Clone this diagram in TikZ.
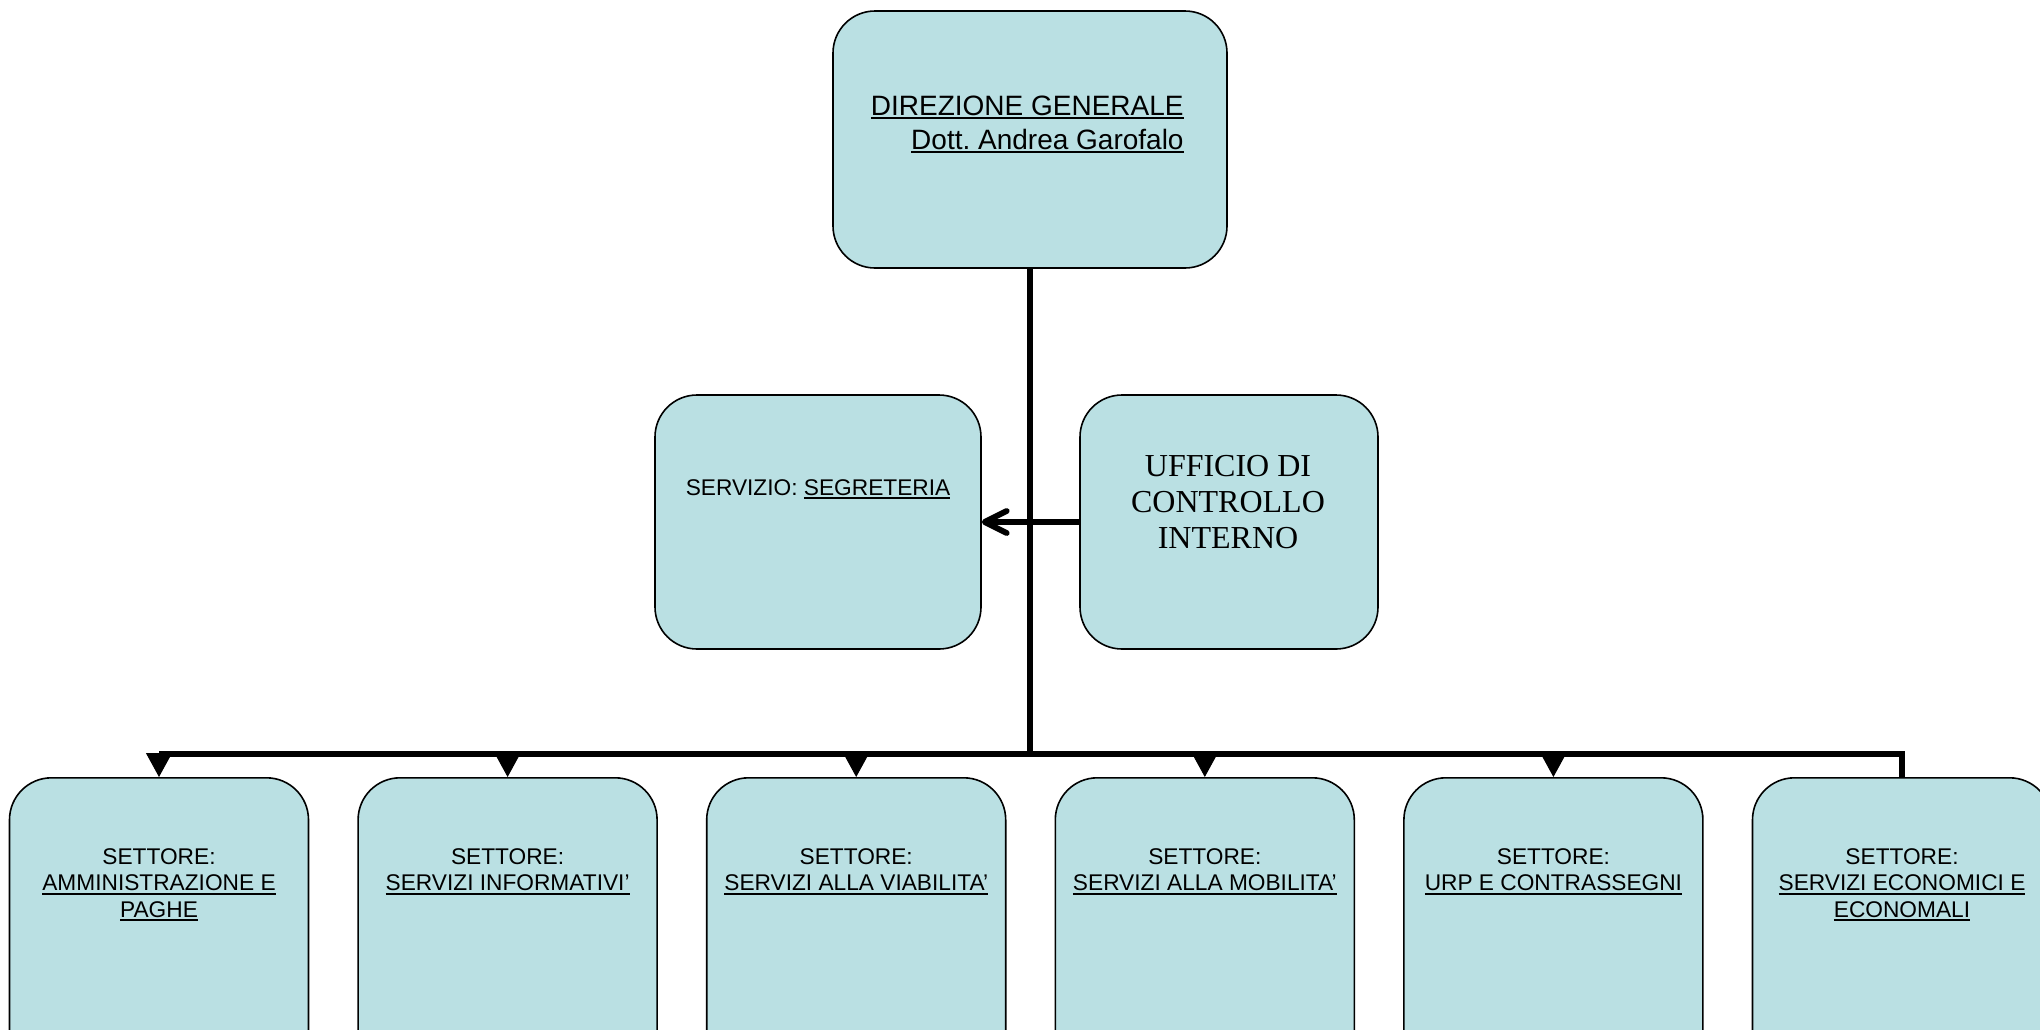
\documentclass[tikz,border=0pt]{standalone}
\usepackage{fontspec}
\setmainfont{Liberation Sans}
\newfontfamily\timesfont{Liberation Serif}
\usetikzlibrary{arrows.meta}
\definecolor{boxfill}{RGB}{186,224,227}
\frenchspacing
\newcommand\myul[1]{\leavevmode\setbox0\hbox{#1}\rlap{\rule[-2.2pt]{\wd0}{1.1pt}}\box0}
\newcommand\txtstack[2]{\begin{tabular}[t]{@{}#1@{}}#2\end{tabular}}
\begin{document}
\begin{tikzpicture}[x=0.5pt,y=-0.5pt,
  orgbox/.style={draw=black,line width=0.8pt,fill=boxfill,rounded corners=21pt,inner sep=0pt},
  conn/.style={line width=2.9pt,draw=black},
  sanslab/.style={font=\fontsize{11.35pt}{13.25pt}\selectfont,inner sep=0pt,anchor=base},
]
\useasboundingbox (0,0) rectangle (2040,1029);
\clip (0,0) rectangle (2040,1029);

% boxes
\node[orgbox,minimum width=197pt,minimum height=128.5pt] (dir) at (1030,139.5) {};
\node[orgbox,minimum width=163pt,minimum height=127pt] (seg) at (818,522) {};
\node[orgbox,minimum width=149pt,minimum height=127pt] (uci) at (1229,522) {};
\foreach \i in {1,...,6}
  \node[orgbox,minimum width=149.5pt,minimum height=150pt,anchor=north] (s\i) at ({159+348.6*(\i-1)},777) {};

% texts
\node[font=\fontsize{14pt}{17pt}\selectfont,inner sep=0pt,anchor=base east] (dirt) at (1184,115)
  {\txtstack{r}{\myul{DIREZIONE GENERALE}\\\myul{Dott. Andrea Garofalo}}};
\node[sanslab] (segt) at (818,495) {SERVIZIO: \myul{SEGRETERIA}};
\node[font=\timesfont\fontsize{16pt}{18pt}\selectfont,inner sep=0pt,anchor=base] (ucit) at (1228,476)
  {\txtstack{c}{UFFICIO DI\\CONTROLLO\\INTERNO}};
\node[sanslab] (t1) at (s1.north |- 0,864) {\txtstack{c}{SETTORE:\\\myul{AMMINISTRAZIONE E}\\\myul{PAGHE}}};
\node[sanslab] (t2) at (s2.north |- 0,864) {\txtstack{c}{SETTORE:\\\myul{SERVIZI INFORMATIVI’}}};
\node[sanslab] (t3) at (s3.north |- 0,864) {\txtstack{c}{SETTORE:\\\myul{SERVIZI ALLA VIABILITA’}}};
\node[sanslab] (t4) at (s4.north |- 0,864) {\txtstack{c}{SETTORE:\\\myul{SERVIZI ALLA MOBILITA’}}};
\node[sanslab] (t5) at (s5.north |- 0,864) {\txtstack{c}{SETTORE:\\\myul{URP E CONTRASSEGNI}}};
\node[sanslab] (t6) at (s6.north |- 0,864) {\txtstack{c}{SETTORE:\\\myul{SERVIZI ECONOMICI E}\\\myul{ECONOMALI}}};

% connectors
\coordinate (busy) at (0,754);
\draw[conn] (dir.south) -- (dir.south |- busy);
\draw[conn] (s1.north |- busy) -- (s6.north |- busy) -- (s6.north);
\foreach \i in {1,...,5}
  \draw[conn,-{Triangle[length=12pt,width=13pt,line width=0.5pt]}] (s\i.north |- busy) -- (s\i.north);
\draw[conn,-{Straight Barb[length=11pt,width=11pt,round]}] (uci.west) -- (seg.east);
\end{tikzpicture}
\end{document}
